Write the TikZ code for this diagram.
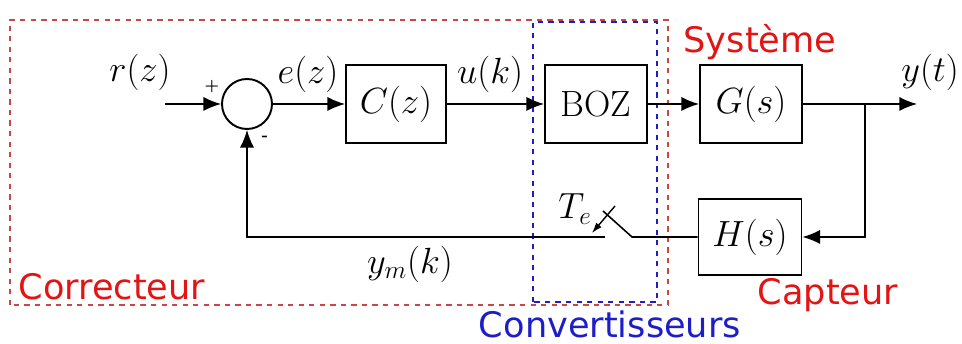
\documentclass[tikz,border=0pt]{standalone}
\usepackage{fontspec}
\setsansfont{DejaVu Sans}
\usepackage{xcolor}
\definecolor{ctred}{RGB}{226,20,20}
\definecolor{ctdashred}{RGB}{205,70,70}
\definecolor{ctblue}{RGB}{30,30,200}
\usetikzlibrary{arrows.meta,positioning,calc}

\begin{document}
\begin{tikzpicture}[
  blockbox/.style={draw=black, line width=1.1pt, minimum height=1.56cm, minimum width=2.04cm,
    inner sep=0pt, font=\huge},
  sumnode/.style={draw=black, line width=1.1pt, circle, minimum size=1cm, inner sep=0pt},
  lbl/.style={font=\huge},
  grouplbl/.style={font=\fontsize{20}{24}\selectfont\sffamily},
  sig/.style={-{Latex[length=10pt,width=8pt]}, line width=0.8pt}]
\useasboundingbox (0,0) rectangle (19.24,6.88);

% Dashed groups
\draw[ctdashred, dashed, line width=0.6pt] (0.2,0.78) rectangle (13.36,6.48);
\draw[ctblue, dashed, line width=0.6pt] (10.66,0.84) rectangle (13.14,6.44);

% Blocks
\node[sumnode] (sum) at (4.94,4.8) {};
\node[blockbox, minimum width=2cm] (corr) at (7.92,4.8) {$C(z)$};
\node[blockbox] (boz) at (11.92,4.8) {BOZ};
\node[blockbox] (sys) at (15.02,4.8) {$G(s)$};
\node[blockbox, minimum height=1.52cm, minimum width=2.06cm] (capt) at (15.0,2.14) {$H(s)$};

% Points
\coordinate (in) at (3.3,4.8);
\coordinate (out) at (18.34,4.8);
\coordinate (branch) at (17.3,4.8);
\coordinate (swR) at (12.64,2.14);
\coordinate (swL) at (12.1,2.14);
\coordinate (swT) at (12.06,2.66);
\coordinate (fbk) at (4.94,2.14);

% Signals
\draw[sig] (in) -- (sum.west);
\draw[sig] (sum.east) -- (corr.west);
\draw[sig] (corr.east) -- (boz.west);
\draw[sig] (boz.east) -- (sys.west);
\draw[sig] (sys.east) -- (out);
\draw[sig] (branch) |- (capt.east);
\draw[line width=0.9pt] (capt.west) -- (swR) -- (swT);
\draw[sig] (swL) -- (fbk) -- (sum.south);
\draw[-{Latex[length=6pt,width=4pt]}, line width=0.8pt] (12.3,2.76) -- (11.84,2.22);

% Labels
\node[lbl] (rlbl) at (2.8,5.44) {$r(z)$};
\node[font=\small\bfseries] (plus) at (4.24,5.14) {+};
\node[font=\small\bfseries] (minus) at (5.3,4.12) {-};
\node[lbl] (elbl) at (6.16,5.4) {$e(z)$};
\node[lbl] (ulbl) at (9.8,5.4) {$u(k)$};
\node[lbl] (ylbl) at (18.6,5.44) {$y(t)$};
\node[lbl] (telbl) at (11.5,2.7) {$T_e$};
\node[lbl] (ymlbl) at (8.2,1.6) {$y_m(k)$};

% Group names
\node[grouplbl, ctred] (syslbl) at (15.2,6.04) {Système};
\node[grouplbl, ctred] (corrlbl) at (2.24,1.14) {Correcteur};
\node[grouplbl, ctred] (captlbl) at (16.56,0.98) {Capteur};
\node[grouplbl, ctblue] (convlbl) at (12.2,0.4) {Convertisseurs};

\end{tikzpicture}
\end{document}
